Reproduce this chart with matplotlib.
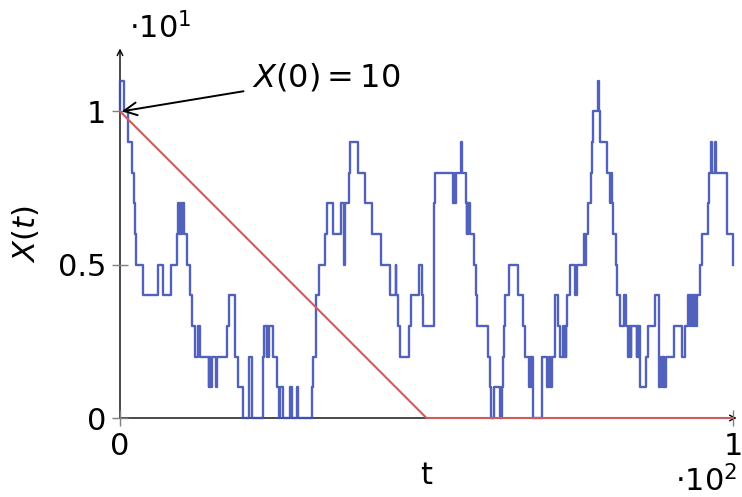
import matplotlib
matplotlib.use("Agg")
import matplotlib.pyplot as plt

# jump times and new values of the process X(t)
jump_t = [0, 0.05, 0.65, 1.36, 1.9, 2.3, 2.45, 2.6, 3.8, 6.15, 7.07, 8.27, 9.35, 9.4, 9.7, 9.75,
          10.0, 10.05, 10.44, 10.87, 11.4, 11.75, 12.2, 12.8, 13.05, 14.5, 14.6, 14.65, 14.95,
          15.66, 15.9, 17.4, 17.8, 18.7, 18.75, 19.3, 20.0, 21.05, 21.1, 21.55, 21.6, 23.25,
          23.3, 23.5, 23.9, 24.0, 24.2, 24.3, 25.0, 25.6, 26.0, 26.1, 26.6, 27.7, 28.1, 28.8,
          29.1, 31.4, 31.45, 32.0, 32.05, 32.4, 33.4, 33.7, 34.8, 36.1, 36.55, 36.6, 36.65,
          36.7, 37.4, 37.6, 38.8, 40.0, 41.1, 42.5, 44.0, 45.0, 45.1, 45.4, 45.7, 47.1, 47.4,
          48.8, 49.2, 49.5, 51.2, 51.22, 51.25, 51.3, 51.4, 54.4, 54.5, 54.55, 54.8, 55.7,
          55.75, 56.4, 56.6, 56.65, 56.8, 56.85, 57.1, 57.8, 58.1, 58.3, 60.1, 60.4, 60.6,
          61.0, 62.0, 62.3, 62.4, 62.7, 62.8, 63.5, 64.9, 65.7, 66.1, 66.8, 66.9, 67.0, 67.1,
          67.3, 67.4, 68.8, 68.9, 69.7, 70.0, 70.1, 70.4, 70.9, 71.0, 71.5, 71.8, 72.3, 72.4,
          72.6, 72.7, 72.8, 72.9, 73.4, 74.2, 74.6, 75.7, 75.9, 76.0, 76.4, 76.9, 77.0, 77.2,
          78.0, 78.2, 78.3, 79.5, 80.0, 80.1, 80.2, 80.4, 80.9, 81.0, 81.5, 82.3, 82.5, 82.9,
          83.0, 83.3, 83.4, 84.3, 84.35, 84.5, 84.6, 84.8, 84.9, 85.8, 86.2, 87.3, 87.9, 87.95,
          88.0, 88.3, 88.5, 88.6, 88.7, 89.1, 90.3, 91.6, 92.2, 92.7, 93.0, 93.1, 93.4, 93.5,
          93.7, 93.8, 94.0, 94.1, 94.6, 94.9, 96.0, 96.1, 96.4, 96.5, 97.0, 97.3, 99.0, 99.05,
          100.0]
jump_x = [10, 11, 10, 9, 8, 7, 6, 5, 4, 5, 4, 5, 6, 7, 6, 7,
          6, 7, 6, 5, 4, 3, 2, 3, 2, 1, 2, 1, 2,
          1, 2, 3, 4, 3, 2, 1, 0, 1, 2, 1, 0, 1,
          2, 3, 2, 3, 2, 3, 2, 1, 0, 1, 0, 1, 0, 1,
          0, 1, 2, 3, 4, 5, 6, 7, 6, 7, 6, 5, 6,
          7, 8, 9, 8, 7, 6, 5, 4, 5, 4, 3, 2, 3, 4,
          5, 4, 3, 4, 5, 6, 7, 8, 7, 8, 7, 8, 9,
          8, 7, 6, 7, 6, 7, 6, 5, 4, 3, 2, 1, 0,
          1, 0, 1, 2, 3, 4, 5, 4, 3, 2, 1, 2, 1, 2,
          1, 0, 1, 2, 1, 2, 1, 2, 3, 4, 3, 2, 3, 2,
          3, 2, 3, 4, 5, 4, 5, 6, 5, 6, 7, 8, 9, 10,
          11, 10, 9, 8, 7, 8, 7, 6, 5, 4, 3, 4, 3, 2,
          3, 2, 3, 2, 3, 2, 3, 2, 1, 2, 3, 4, 3, 2,
          1, 2, 1, 2, 1, 2, 3, 2, 3, 4, 3, 4, 3, 4,
          3, 4, 3, 4, 5, 6, 7, 8, 9, 8, 9, 8, 7, 6,
          5]

# deterministic comparison line
line_t = [0, 50, 100]
line_x = [10, 0, 0]

fig = plt.figure(figsize=(7.42, 4.97), dpi=100)
ax = fig.add_axes([120/742, 79/497, 613/742, 368/497])

ax.set_xlim(0, 100)
ax.set_ylim(0, 12)
for s in ax.spines.values():
    s.set_visible(False)

# axis lines with arrow heads
ax.annotate("", xy=(100.6, 0), xytext=(0, 0), xycoords="data",
            arrowprops=dict(arrowstyle="->", color="black", lw=1.0, shrinkA=0, shrinkB=0),
            annotation_clip=False, zorder=1)
ax.annotate("", xy=(0, 12.05), xytext=(0, 0), xycoords="data",
            arrowprops=dict(arrowstyle="->", color="black", lw=1.0, shrinkA=0, shrinkB=0),
            annotation_clip=False, zorder=1)

ax.step(jump_t, jump_x, where="post", color="#3f51b5", lw=1.7, alpha=0.9,
        clip_on=False, zorder=3)
ax.plot(line_t, line_x, color="#cd5c5c", lw=1.5, clip_on=False, zorder=4)

ax.set_xticks([0, 100])
ax.set_xticklabels(["0", "1"])
ax.set_yticks([0, 5, 10])
ax.set_yticklabels(["0", "0.5", "1"])
ax.tick_params(direction="inout", length=12, width=1, color="gray", labelsize=22, pad=4)

ax.set_xlabel("t", fontsize=22, labelpad=0)
ax.set_ylabel("$X(t)$", fontsize=22, labelpad=12)

fig.text(160/742, 1 - 28/497, r"$\cdot 10^{1}$", fontsize=22, ha="center", va="center")
fig.text(706/742, 1 - 481/497, r"$\cdot 10^{2}$", fontsize=22, ha="center", va="center")

ax.annotate("$X(0) = 10$", xy=(0.3, 10), xytext=(21.5, 11.1),
            fontsize=23, ha="left", va="center",
            arrowprops=dict(arrowstyle="->", color="black", lw=1.4, shrinkA=4, shrinkB=0),
            annotation_clip=False)

plt.savefig("out.png", dpi=100)
